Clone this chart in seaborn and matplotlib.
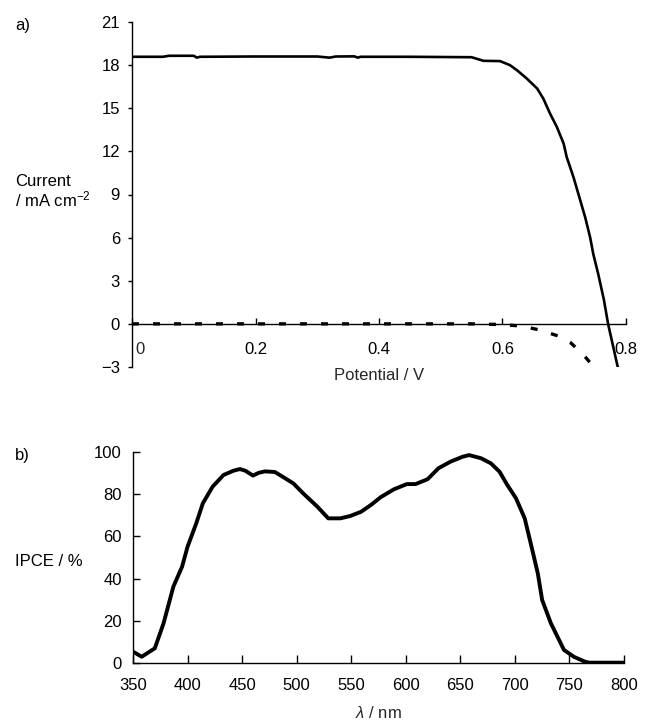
import matplotlib
matplotlib.use("Agg")
import matplotlib.pyplot as plt
import matplotlib.transforms as mtransforms
import seaborn as sns
import numpy as np
import pandas as pd

# ---------------- data ----------------
# panel a: J-V curve under illumination (solid)
potential_light = [0.00, 0.05, 0.06, 0.10, 0.105, 0.11, 0.20, 0.30, 0.32, 0.33,
                   0.36, 0.366, 0.37, 0.45, 0.55, 0.569, 0.596, 0.612, 0.623,
                   0.639, 0.656, 0.666, 0.677, 0.688, 0.699, 0.704, 0.715,
                   0.726, 0.734, 0.742, 0.747, 0.755, 0.764, 0.771, 0.787]
current_light = [18.58, 18.58, 18.65, 18.65, 18.52, 18.58, 18.60, 18.60, 18.52,
                 18.60, 18.61, 18.52, 18.58, 18.58, 18.55, 18.30, 18.28, 18.00,
                 17.66, 17.08, 16.38, 15.68, 14.63, 13.70, 12.54, 11.60, 10.20,
                 8.58, 7.40, 6.00, 4.86, 3.47, 1.72, 0.00, -3.07]
# panel a: dark current (dashed)
potential_dark = [0.00, 0.55, 0.60, 0.63, 0.66, 0.69, 0.71, 0.73, 0.75]
current_dark = [0.00, 0.00, -0.05, -0.15, -0.42, -0.84, -1.30, -2.10, -3.10]

pot_ticks = [0.0, 0.2, 0.4, 0.6, 0.8]
pot_ticklabels = ["", "0.2", "0.4", "0.6", "0.8"]
cur_ticks = [-3, 0, 3, 6, 9, 12, 15, 18, 21]

# panel b: IPCE spectrum
wavelength = [350, 358, 370, 378, 387, 395, 400, 408, 414, 423, 433, 442, 448,
              453, 460, 465, 471, 480, 488, 497, 506, 519, 529, 540, 549, 559,
              568, 577, 589, 601, 609, 620, 630, 641, 652, 658, 669, 678, 686,
              693, 701, 709, 716, 721, 725, 733, 745, 754, 764, 768, 800]
ipce = [5.5, 3.1, 7.1, 18.9, 36.2, 45.7, 55.1, 66.2, 75.6, 83.5, 89.0, 91.0,
        91.8, 91.0, 88.7, 90.0, 90.7, 90.4, 87.9, 85.0, 80.3, 74.0, 68.5, 68.5,
        69.6, 71.6, 74.8, 78.5, 82.2, 84.7, 84.7, 87.0, 92.2, 95.3, 97.6, 98.4,
        96.9, 94.5, 90.5, 84.3, 78.0, 68.5, 53.5, 42.5, 29.9, 18.9, 6.3, 3.1,
        0.8, 0.3, 0.3]
wl_ticks = [350, 400, 450, 500, 550, 600, 650, 700, 750, 800]
ipce_ticks = [0, 20, 40, 60, 80, 100]

# ---------------- style ----------------
sns.set_style("ticks")
plt.rcParams["font.family"] = ["Liberation Sans", "DejaVu Sans"]
plt.rcParams["mathtext.fontset"] = "custom"
plt.rcParams["mathtext.rm"] = "Liberation Sans"
plt.rcParams["mathtext.it"] = "Liberation Sans:italic"
plt.rcParams["mathtext.default"] = "regular"
plt.rcParams["axes.linewidth"] = 1.0
plt.rcParams["axes.edgecolor"] = "black"

FS = 12
W, H = 645, 722
fig = plt.figure(figsize=(W / 100, H / 100), dpi=100)


def px_rect(left, top, right, bottom):
    return [left / W, 1 - bottom / H, (right - left) / W, (bottom - top) / H]


def ftext(x, y, s, **kw):
    fig.text(x / W, 1 - y / H, s, fontsize=FS, color="black", **kw)


# ---------------- panel a ----------------
axa = fig.add_axes(px_rect(132, 22, 626, 367))
df_light = pd.DataFrame({"V": potential_light, "J": current_light})
df_dark = pd.DataFrame({"V": potential_dark, "J": current_dark})
sns.lineplot(data=df_light, x="V", y="J", ax=axa, color="black", lw=1.9,
             sort=False, estimator=None)
sns.lineplot(data=df_dark, x="V", y="J", ax=axa, color="black", lw=2.4,
             sort=False, estimator=None, linestyle=(0, (2.1, 4.2)))
axa.set_xlim(0, 0.8)
axa.set_ylim(-3, 21)
axa.spines["top"].set_visible(False)
axa.spines["right"].set_visible(False)
axa.spines["bottom"].set_position(("data", 0))
axa.set_xticks(pot_ticks)
axa.set_xticklabels(pot_ticklabels)
axa.set_yticks(cur_ticks)
axa.tick_params(axis="x", direction="in", length=4, width=1, pad=13.4,
                labelsize=FS, colors="black")
axa.tick_params(axis="y", direction="out", length=3, width=1, pad=5.7,
                labelsize=FS, colors="black")
axa.set_xlabel("Potential / V", fontsize=FS)
axa.xaxis.set_label_coords(0.5, -0.003)
axa.set_ylabel("")
zero_tr = mtransforms.offset_copy(axa.transData, fig=fig, x=3, y=-18.5,
                                  units="dots")
axa.text(0, 0, "0", transform=zero_tr, ha="left", va="top", fontsize=FS)

ftext(15, 30, "a)", ha="left", va="baseline")
ftext(15, 186, "Current", ha="left", va="baseline")
ftext(15, 206, "/ mA cm$^{-2}$", ha="left", va="baseline")

# ---------------- panel b ----------------
axb = fig.add_axes(px_rect(133, 451.7, 624, 663.3))
df_ipce = pd.DataFrame({"wl": wavelength, "ipce": ipce})
sns.lineplot(data=df_ipce, x="wl", y="ipce", ax=axb, color="black", lw=2.8,
             estimator=None)
axb.set_xlim(350, 800)
axb.set_ylim(0, 100)
axb.spines["top"].set_visible(False)
axb.spines["right"].set_visible(False)
axb.set_xticks(wl_ticks)
axb.set_yticks(ipce_ticks)
axb.tick_params(axis="x", direction="in", length=6, width=1, pad=10.3,
                labelsize=FS, colors="black")
axb.tick_params(axis="y", direction="in", length=5, width=1, pad=8.1,
                labelsize=FS, colors="black")
axb.set_xlabel(r"$\mathit{\lambda}$ / nm", fontsize=FS)
axb.xaxis.set_label_coords(0.5, -0.198)
axb.set_ylabel("")

ftext(15, 460, "b)", ha="left", va="baseline")
ftext(15, 566, "IPCE / %", ha="left", va="baseline")

fig.savefig("out.png", dpi=100)
